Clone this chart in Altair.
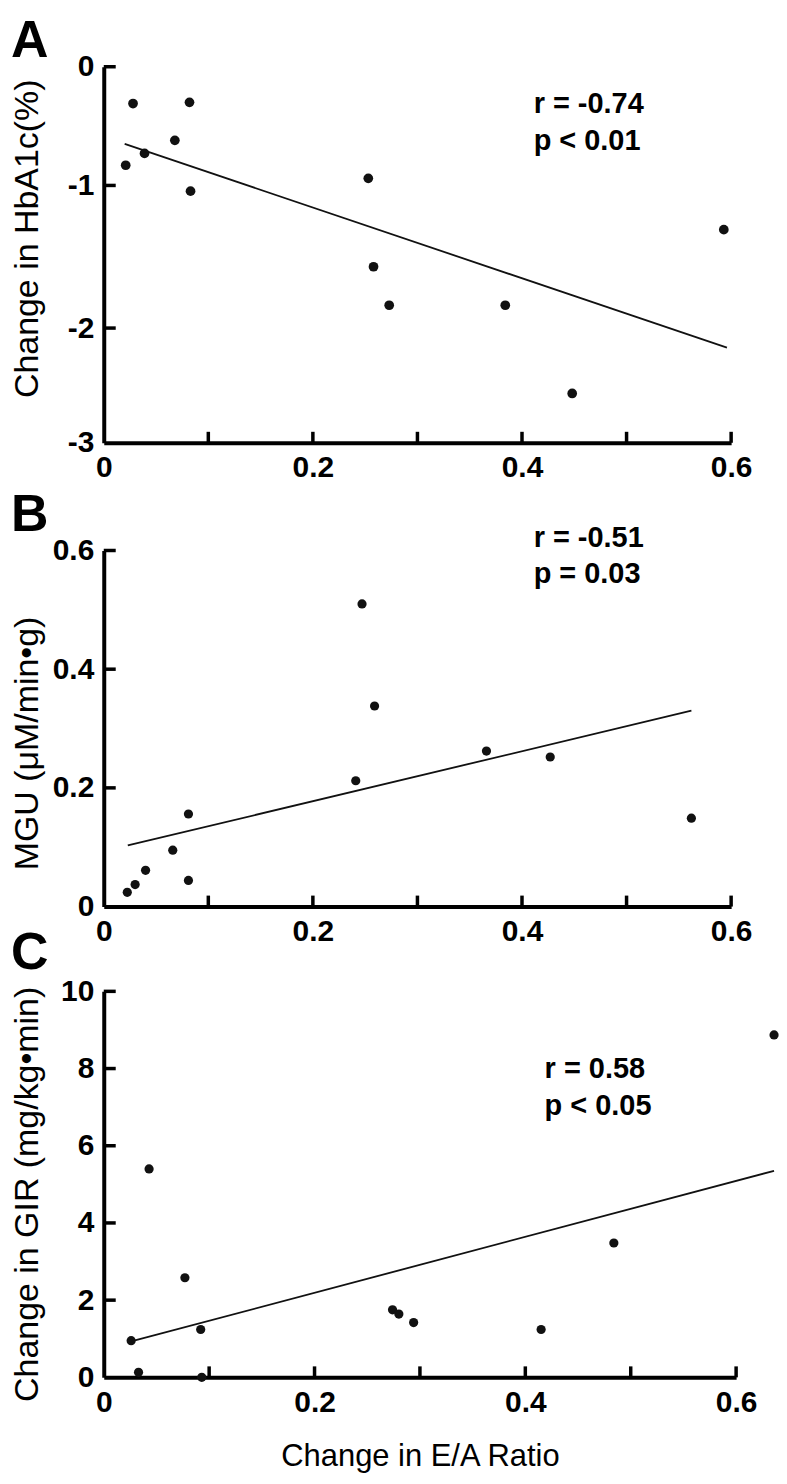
import altair as alt
import pandas as pd

FONT = "Liberation Sans"
INK = "#111111"

# ---------------- data ----------------
# Panel A: change in E/A ratio vs change in HbA1c (%)
a_x = [0.021, 0.028, 0.039, 0.068, 0.082, 0.083, 0.253, 0.258, 0.273, 0.384, 0.448, 0.593]
a_y = [-0.83, -0.31, -0.73, -0.62, -0.30, -1.04, -0.94, -1.57, -1.84, -1.84, -2.57, -1.31]
a_fit_x = [0.020, 0.596]
a_fit_y = [-0.65, -2.17]
a_stats = ["r = -0.74", "p < 0.01"]

# Panel B: change in E/A ratio vs MGU
b_x = [0.0225, 0.030, 0.040, 0.066, 0.081, 0.081, 0.241, 0.247, 0.259, 0.366, 0.427, 0.562]
b_y = [0.024, 0.037, 0.061, 0.095, 0.156, 0.044, 0.212, 0.510, 0.338, 0.262, 0.252, 0.149]
b_fit_x = [0.023, 0.562]
b_fit_y = [0.103, 0.330]
b_stats = ["r = -0.51", "p = 0.03"]

# Panel C: change in E/A ratio vs change in GIR
c_x = [0.026, 0.033, 0.043, 0.077, 0.092, 0.093, 0.274, 0.280, 0.294, 0.415, 0.484, 0.636]
c_y = [0.95, 0.13, 5.40, 2.58, 1.24, 0.00, 1.75, 1.64, 1.42, 1.24, 3.48, 8.87]
c_fit_x = [0.026, 0.636]
c_fit_y = [0.93, 5.35]
c_stats = ["r = 0.58", "p < 0.05"]

x_labels = [0, 0.2, 0.4, 0.6]
x_inner_ticks = [0.1, 0.2, 0.3, 0.4, 0.5, 0.6]
a_y_labels = [0, -1, -2, -3]
a_y_inner = [0, -1, -2]
b_y_labels = [0, 0.2, 0.4, 0.6]
b_y_inner = [0.2, 0.4, 0.6]
c_y_labels = [0, 2, 4, 6, 8, 10]
c_y_inner = [2, 4, 6, 8, 10]


def axis_common(**kw):
    base = dict(
        domain=True, domainWidth=4, domainColor="black", ticks=False, grid=False,
        labelFont=FONT, labelFontSize=30, labelFontWeight="bold", labelColor="black",
        labelPadding=10, labelFlush=False, labelOverlap=False,
        labelExpr="'' + datum.value",
        titleFont=FONT, titleFontWeight="normal", titleColor="black",
    )
    base.update(kw)
    return alt.Axis(**base)


def panel(px, py, fx, fy, stats, letter, ydom, yrange, W, H, ylabels, yinner,
          ytitle, title_y, letter_y, ann_x, ann_y, point_size, xtitle=None):
    xs = alt.Scale(domain=[0, 0.6], nice=False, zero=False)
    ys = alt.Scale(domain=ydom, range=yrange, nice=False, zero=False)

    if xtitle:
        xaxis = axis_common(values=x_labels, title=xtitle, titleFontSize=31,
                            titleY=64, titleBaseline="top")
    else:
        xaxis = axis_common(values=x_labels, title=None)
    yaxis = axis_common(values=ylabels, title=ytitle, titleFontSize=34,
                        titleAngle=270, titleX=-76, titleY=title_y,
                        titleBaseline="middle", titleAlign="center")

    pts = pd.DataFrame({"x": px, "y": py})
    fit = pd.DataFrame({"x": fx, "y": fy})

    points = alt.Chart(pts).mark_circle(size=point_size, color=INK, opacity=1).encode(
        x=alt.X("x:Q", scale=xs, axis=xaxis),
        y=alt.Y("y:Q", scale=ys, axis=yaxis),
    )
    line = alt.Chart(fit).mark_line(color=INK, strokeWidth=1.8).encode(
        x=alt.X("x:Q", scale=xs, axis=xaxis),
        y=alt.Y("y:Q", scale=ys, axis=yaxis),
    )
    xt = alt.Chart(pd.DataFrame({"x": x_inner_ticks})).mark_rule(
        color="black", strokeWidth=3.5).encode(
        x=alt.X("x:Q", scale=xs, axis=xaxis),
        y=alt.value(H), y2=alt.value(H - 11),
    )
    yt = alt.Chart(pd.DataFrame({"y": yinner})).mark_rule(
        color="black", strokeWidth=3.5).encode(
        y=alt.Y("y:Q", scale=ys, axis=yaxis),
        x=alt.value(0), x2=alt.value(12),
    )
    ann = alt.Chart(pd.DataFrame({"k": [0]})).mark_text(
        text=stats, align="left", baseline="middle", font=FONT, fontSize=29,
        fontWeight="bold", color="black", lineHeight=37,
    ).encode(x=alt.value(ann_x), y=alt.value(ann_y))
    let = alt.Chart(pd.DataFrame({"k": [0]})).mark_text(
        text=letter, align="left", baseline="top", font=FONT, fontSize=52,
        fontWeight="bold", color="black",
    ).encode(x=alt.value(-93), y=alt.value(letter_y))

    return alt.layer(points, line, xt, yt, ann, let).properties(width=W, height=H)


# Panel A's printed y ticks are unevenly spaced; a piecewise scale keeps them in place
pA = panel(a_x, a_y, a_fit_x, a_fit_y, a_stats, "A", [-3, -2, -1, 0], [434, 319, 176, 57],
           629, 434, a_y_labels, a_y_inner, "Change in HbA1c(%)", 229, 6, 431, 94, 95)
pB = panel(b_x, b_y, b_fit_x, b_fit_y, b_stats, "B", [0, 0.6], [465, 108], 629, 465,
           b_y_labels, b_y_inner, "MGU (\u03bcM/min\u2022g)", 301, 47, 431, 95, 85)
pC = panel(c_x, c_y, c_fit_x, c_fit_y, c_stats, "C", [0, 10], [472, 85], 634, 472,
           c_y_labels, c_y_inner, "Change in GIR (mg/kg\u2022min)", 288, 22, 442, 163, 85,
           xtitle="Change in E/A Ratio")

chart = alt.vconcat(pA, pB, pC, spacing=0, bounds="flush").properties(
    padding={"left": 2, "top": 0, "right": 0, "bottom": 0}
).configure_view(strokeWidth=0)

chart.save("out.html", embed_options={"renderer": "svg", "actions": False})
